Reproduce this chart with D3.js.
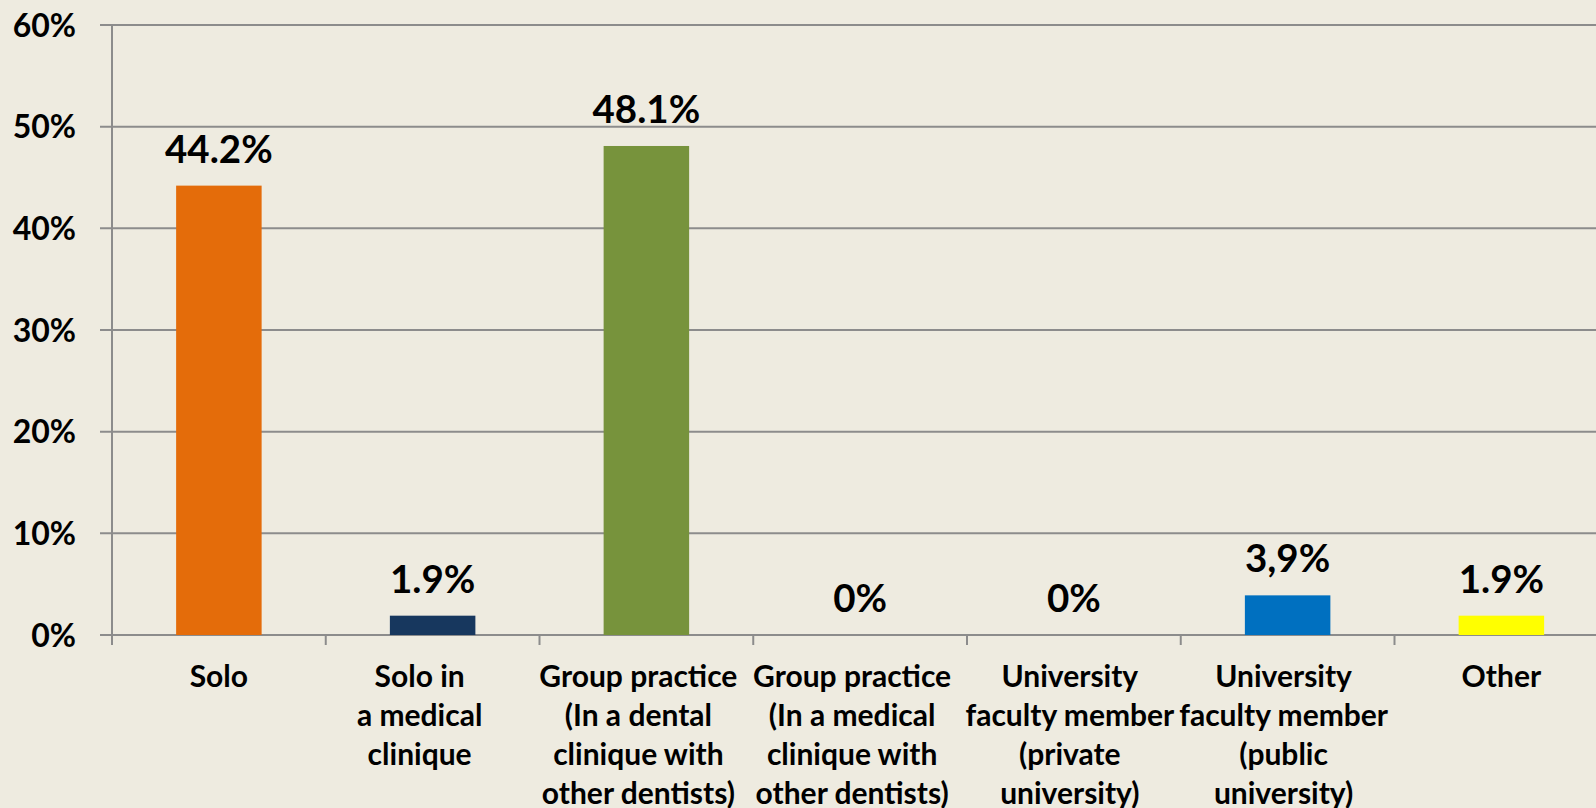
<!DOCTYPE html>
<html>
<head>
<meta charset="utf-8">
<script src="https://cdnjs.cloudflare.com/ajax/libs/d3/7.8.5/d3.min.js"></script>
<style>
  html, body { margin: 0; padding: 0; background: #EEEBE0; overflow: hidden; }
  svg { display: block; }
  text { font-family: Lato, "Open Sans", sans-serif; font-weight: 700; fill: #000; }
</style>
</head>
<body>
<svg id="chart" width="1596" height="808"></svg>
<script>
const categories = ["Solo", "Solo in medical", "Group dental", "Group medical", "Univ private", "Univ public", "Other"];
const categoryLines = [
  ["Solo"],
  ["Solo in", "a medical", "clinique"],
  ["Group practice", "(In a dental", "clinique with", "other dentists)"],
  ["Group practice", "(In a medical", "clinique with", "other dentists)"],
  ["University", "faculty member", "(private", "university)"],
  ["University", "faculty member", "(public", "university)"],
  ["Other"]
];
const values = [44.2, 1.9, 48.1, 0, 0, 3.9, 1.9];
const valueLabels = ["44.2%", "1.9%", "48.1%", "0%", "0%", "3,9%", "1.9%"];
const barColors = ["#E46C0A", "#17375E", "#77933C", "#4F81BD", "#8064A2", "#0070C0", "#FFFF00"];
const yTicks = [0, 10, 20, 30, 40, 50, 60];
const yTickLabels = ["0%", "10%", "20%", "30%", "40%", "50%", "60%"];

const svg = d3.select("#chart");
const mLeft = 112, mTop = 25, mBottom = 635;
const step = 213.75;
const mRight = mLeft + step * categories.length;
// small horizontal nudges of the wrapped category labels (as in the source rendering)
const labelNudge = [0, -13, -8, -8, -4, -4, 0];

const x = d3.scaleBand().domain(categories).range([mLeft, mRight]).paddingInner(0.6).paddingOuter(0.3);
const y = d3.scaleLinear().domain([0, 60]).range([mBottom, mTop]);

const gridColor = "#8C8C8C";

// gridlines + left tick stubs
svg.append("g").selectAll("line").data(yTicks).join("line")
  .attr("x1", mLeft - 12).attr("x2", mRight)
  .attr("y1", d => y(d)).attr("y2", d => y(d))
  .attr("stroke", gridColor).attr("stroke-width", 2);

// y axis line
svg.append("line").attr("x1", mLeft).attr("x2", mLeft).attr("y1", mTop).attr("y2", mBottom)
  .attr("stroke", gridColor).attr("stroke-width", 2);

// x tick marks at category boundaries
const boundaries = d3.range(categories.length + 1).map(i => mLeft + i * step);
svg.append("g").selectAll("line").data(boundaries).join("line")
  .attr("x1", d => d).attr("x2", d => d).attr("y1", mBottom).attr("y2", mBottom + 10)
  .attr("stroke", gridColor).attr("stroke-width", 2);

// y tick labels
svg.append("g").selectAll("text").data(yTicks).join("text")
  .attr("x", 76).attr("y", d => y(d)).attr("dy", "0.36em")
  .attr("text-anchor", "end").style("font-size", "32px")
  .text((d, i) => yTickLabels[i]);

// bars
svg.append("g").selectAll("rect").data(values).join("rect")
  .attr("x", (d, i) => x(categories[i]))
  .attr("width", x.bandwidth())
  .attr("y", d => y(d))
  .attr("height", d => mBottom - y(d))
  .attr("fill", (d, i) => barColors[i]);

// value labels
svg.append("g").selectAll("text").data(values).join("text")
  .attr("x", (d, i) => x(categories[i]) + x.bandwidth() / 2)
  .attr("y", d => y(d) - 23)
  .attr("text-anchor", "middle").style("font-size", "38.5px")
  .text((d, i) => valueLabels[i]);

// category labels
const catG = svg.append("g");
categoryLines.forEach((lines, i) => {
  const cx = x(categories[i]) + x.bandwidth() / 2 + labelNudge[i];
  const t = catG.append("text").attr("text-anchor", "middle").style("font-size", "30px");
  lines.forEach((ln, j) => {
    t.append("tspan").attr("x", cx).attr("y", 686.5 + j * 39).text(ln);
  });
});
</script>
</body>
</html>
